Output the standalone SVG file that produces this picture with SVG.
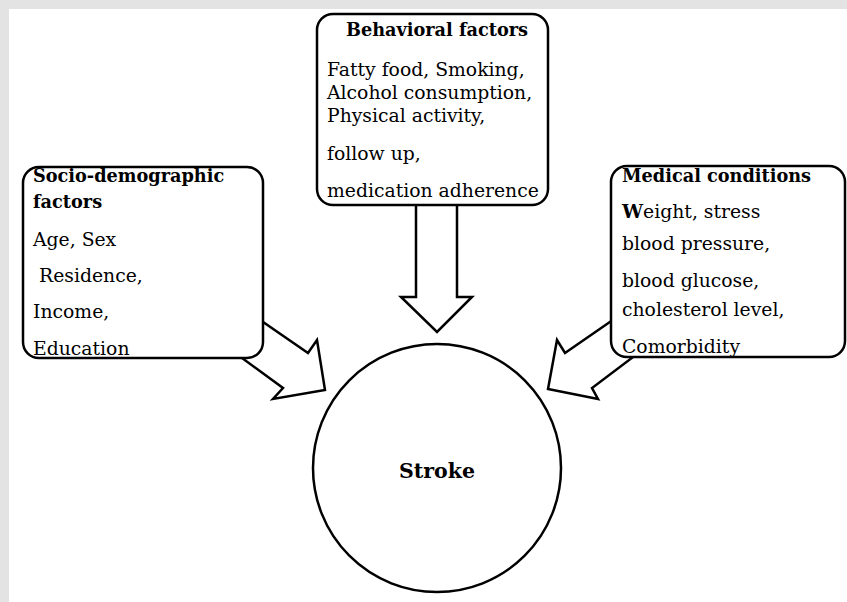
<svg xmlns="http://www.w3.org/2000/svg" width="847" height="602" viewBox="0 0 847 602">
<style>
.box{fill:#fff;stroke:#000;stroke-width:2.5}
.arrow{fill:#fff;stroke:#000;stroke-width:2.5;stroke-linejoin:miter}
.t{font-family:"DejaVu Serif","Liberation Serif",serif;font-size:18.8px;fill:#000}
.h{font-weight:bold;font-size:17.7px}
.b{font-weight:bold}
.s{font-weight:bold;font-size:20.5px}
</style>
<rect x="0" y="0" width="847" height="602" fill="#e3e3e3"/>
<rect x="9" y="9" width="838" height="593" fill="#fff"/>
<g id="connectors">
<polygon class="arrow" points="416,190 457,190 457,297 472,297 437,332 401,297 416,297"/>
<polygon class="arrow" points="240,306 308,353 317,340 325,390 273,399 283,388 220,342"/>
<polygon class="arrow" points="633,306 565,353 557,340 548,389 598,399 592,388 653,342"/>
</g>
<g id="behavioral">
<rect class="box" x="317" y="14" width="231" height="191" rx="16"/>
<text class="t h" x="437" y="36" text-anchor="middle">Behavioral factors</text>
<text class="t" x="327" y="76">Fatty food, Smoking,</text>
<text class="t" x="327" y="99">Alcohol consumption,</text>
<text class="t" x="327" y="122">Physical activity,</text>
<text class="t" x="327" y="160">follow up,</text>
<text class="t" x="327" y="197">medication adherence</text>
</g>
<g id="socio">
<rect class="box" x="23" y="167" width="240" height="191" rx="16"/>
<text class="t h" x="33" y="182">Socio-demographic</text>
<text class="t h" x="33" y="208">factors</text>
<text class="t" x="33" y="246">Age, Sex</text>
<text class="t" x="39" y="282">Residence,</text>
<text class="t" x="33" y="318">Income,</text>
<text class="t" x="33" y="355">Education</text>
</g>
<g id="medical">
<rect class="box" x="611" y="166" width="234" height="191" rx="16"/>
<text class="t h" x="622" y="182">Medical conditions</text>
<text class="t" x="622" y="218"><tspan class="b">W</tspan>eight, stress</text>
<text class="t" x="622" y="250">blood pressure,</text>
<text class="t" x="622" y="287">blood glucose,</text>
<text class="t" x="622" y="316">cholesterol level,</text>
<text class="t" x="622" y="353">Comorbidity</text>
</g>
<g id="stroke">
<circle class="box" cx="437" cy="468" r="124"/>
<text class="t s" x="437" y="478" text-anchor="middle">Stroke</text>
</g>
</svg>
